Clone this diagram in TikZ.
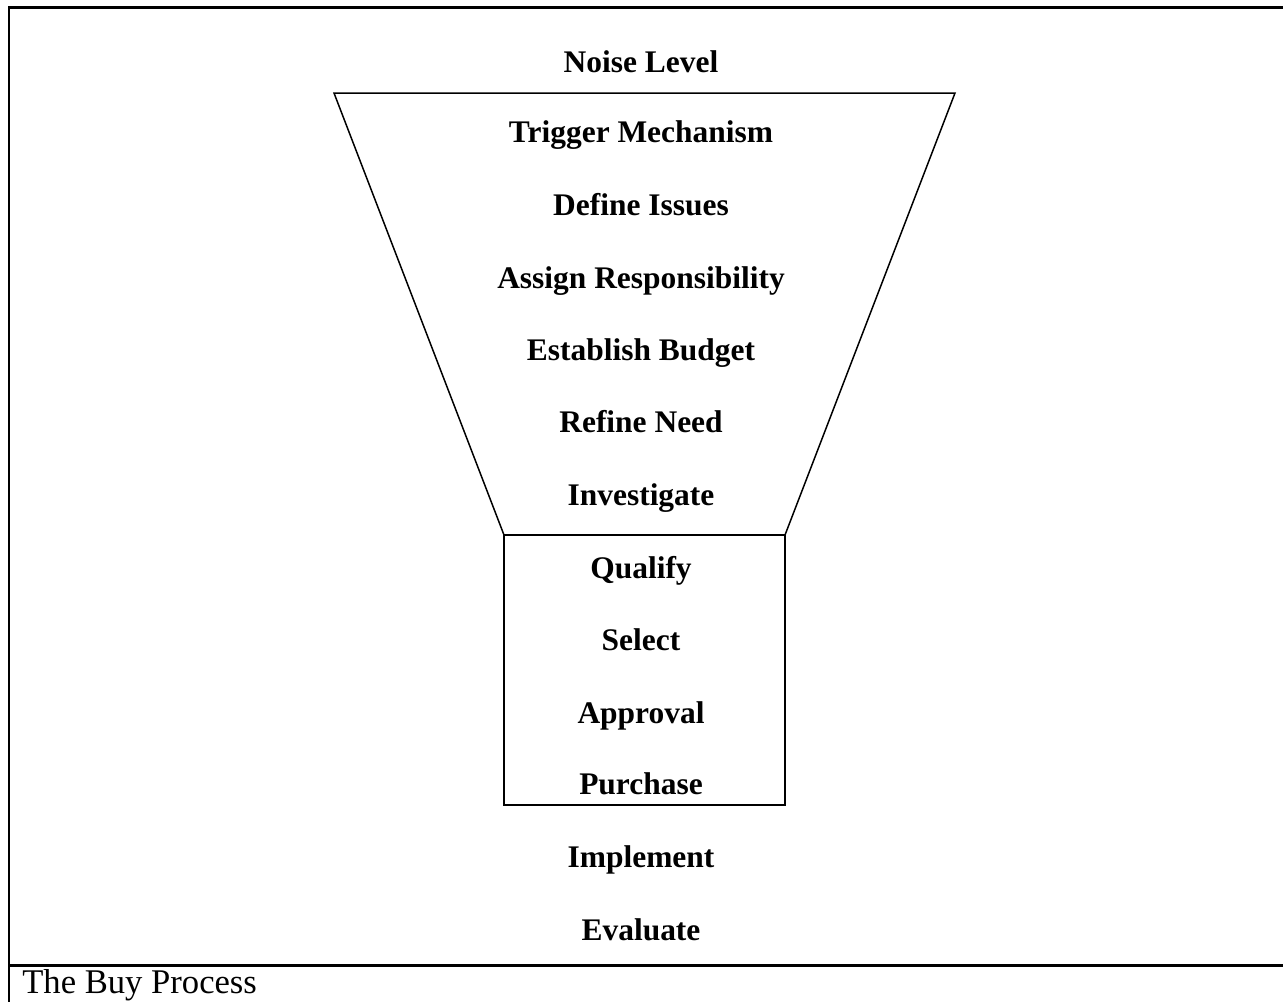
\documentclass[tikz,border=0pt]{standalone}
\usepackage{fontspec}
\setmainfont{Liberation Serif}
\usepackage{tikz}
\usetikzlibrary{positioning,calc}

\begin{document}
\begin{tikzpicture}[x=0.02cm, y=-0.02cm,
    every node/.style={font=\fontsize{17.9}{20}\selectfont\bfseries, inner sep=0pt},
    stage/.style={anchor=base},
    frame/.style={line width=1.7pt},
    funnel/.style={line width=0.85pt}]
\useasboundingbox (0,0) rectangle (1283,1002);

% Outer frame and caption
\draw[frame] (1283,7) -- (9,7) -- (9,1002);
\draw[frame] (9,965) -- (1283,965);
\node[anchor=base west, font=\fontsize{19.7}{22}\selectfont] (caption) at (22,993) {The Buy Process};

% Funnel
\coordinate (tl) at (334,93);
\coordinate (tr) at (955,93);
\coordinate (bl) at (504,535);
\coordinate (br) at (785,535);
\draw[funnel] (bl) -- (tl) -- (tr) -- (br);
\draw[funnel] (bl) rectangle (785,805);

% Stages
\foreach \y/\name/\txt in {72/noise/Noise Level, 142/trigger/Trigger Mechanism,
    215/define/Define Issues, 288/assign/Assign Responsibility,
    360/budget/Establish Budget, 432/refine/Refine Need,
    505/investigate/Investigate, 578/qualify/Qualify, 650/select/Select,
    723/approval/Approval, 794/purchase/Purchase,
    867/implement/Implement, 940/evaluate/Evaluate} {
    \node[stage] (\name) at (641,\y) {\txt};
}
\end{tikzpicture}
\end{document}
